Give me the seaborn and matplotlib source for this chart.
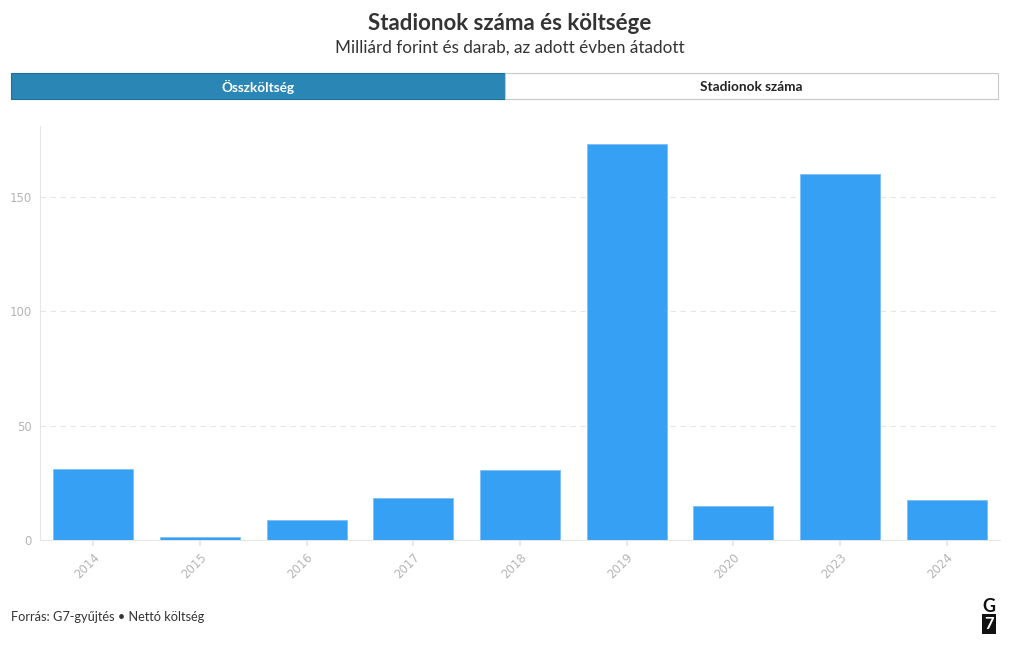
import matplotlib
matplotlib.use("Agg")
import matplotlib.pyplot as plt
import seaborn as sns
import pandas as pd
from matplotlib.patches import Rectangle

years = ["2014", "2015", "2016", "2017", "2018", "2019", "2020", "2023", "2024"]
costs = [30.9, 1.3, 8.7, 18.2, 30.4, 173.0, 14.8, 159.8, 17.5]
yticks = [0, 50, 100, 150]
title = "Stadionok száma és költsége"
subtitle = "Milliárd forint és darab, az adott évben átadott"
buttons = ["Összköltség", "Stadionok száma"]
footer = "Forrás: G7-gyűjtés • Nettó költség"

sns.set_theme(style="white")
plt.rcParams['font.family'] = ['Lato', 'DejaVu Sans']

df = pd.DataFrame({"year": years, "cost": costs})

W, H = 1020, 650
fig = plt.figure(figsize=(W / 100, H / 100), dpi=100)
ax = fig.add_axes([40 / W, (H - 540) / H, 960 / W, (540 - 126) / H])

sns.barplot(data=df, x="year", y="cost", color="#36a0f4", saturation=1,
            width=0.75, ax=ax, edgecolor="#7cc0f8", linewidth=0.6, zorder=3)

ax.set_ylim(0, 181)
ax.set_xlim(-0.5, len(years) - 0.5)
ax.set_yticks(yticks)
ax.set_xlabel("")
ax.set_ylabel("")
for v in yticks[1:]:
    ax.axhline(v, color="#e6e6e6", lw=0.8, ls=(0, (5, 4)), zorder=1)
for s in ["top", "right"]:
    ax.spines[s].set_visible(False)
ax.spines["left"].set_color("#e6e6e6")
ax.spines["bottom"].set_color("#e6e6e6")
ax.spines["left"].set_linewidth(0.8)
ax.spines["bottom"].set_linewidth(0.8)
ax.tick_params(axis="y", length=0, labelsize=8.5, labelcolor="#b5b5b5", pad=6)
ax.tick_params(axis="x", length=4, color="#e6e6e6", labelsize=8.5,
               labelcolor="#b5b5b5", bottom=True, pad=4)
for lab in ax.get_xticklabels():
    lab.set_rotation(45)
    lab.set_ha("right")
    lab.set_rotation_mode("anchor")
for lab in ax.get_xticklabels() + ax.get_yticklabels():
    lab.set_family(["DejaVu Sans"])

fig.text(0.5, 1 - 24 / H, title, ha="center", va="center", fontsize=16,
         fontweight="bold", color="#333333")
fig.text(0.5, 1 - 48 / H, subtitle, ha="center", va="center", fontsize=12.3,
         color="#333333")

# toggle buttons
b1 = Rectangle((11 / W, 1 - 99 / H), (505 - 11) / W, 26 / H, transform=fig.transFigure,
               facecolor="#2a87b5", edgecolor="#1f6f96", lw=0.8)
b2 = Rectangle((505 / W, 1 - 99 / H), (998 - 505) / W, 26 / H, transform=fig.transFigure,
               facecolor="white", edgecolor="#c8c8c8", lw=0.8)
fig.add_artist(b1)
fig.add_artist(b2)
fig.text((11 + 505) / 2 / W, 1 - 87 / H, buttons[0], ha="center", va="center",
         fontsize=9.8, fontweight="bold", color="white")
fig.text((505 + 998) / 2 / W, 1 - 87 / H, buttons[1], ha="center", va="center",
         fontsize=9.8, fontweight="bold", color="#222222")

fig.text(11 / W, 1 - 617 / H, footer, ha="left", va="center", fontsize=9.2,
         color="#333333")

# logo
fig.text(989 / W, 1 - 606 / H, "G", ha="center", va="center", fontsize=13,
         fontweight="bold", color="#111111")
fig.text(989 / W, 1 - 624 / H, "7", ha="center", va="center", fontsize=12,
         fontweight="bold", color="white",
         bbox=dict(boxstyle="square,pad=0.12", facecolor="#111111", edgecolor="none"))

fig.savefig("out.png", dpi=100, facecolor="white")
